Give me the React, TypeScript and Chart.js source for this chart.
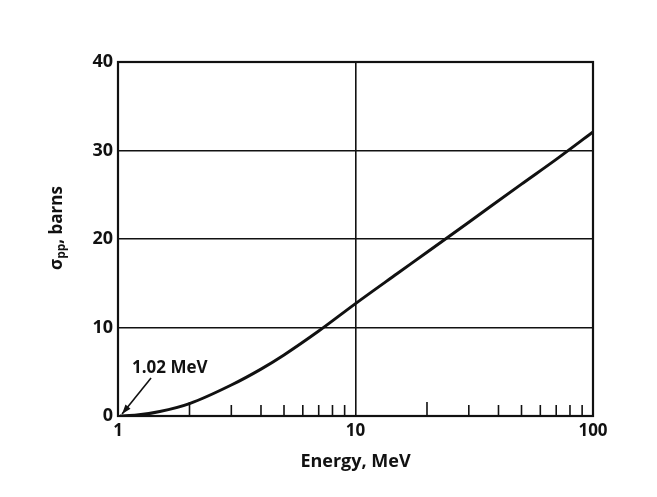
import React, { useEffect, useRef } from "react";
import { Chart, registerables } from "chart.js";

Chart.register(...registerables);

// Data
const energy = [1.02, 1.2, 1.5, 2, 3, 4, 5, 7, 10, 15, 20, 30, 50, 70, 100];
const sigma = [0, 0.1, 0.5, 1.4, 3.5, 5.3, 6.9, 9.6, 12.7, 16.1, 18.5, 21.9, 26.2, 29.0, 32.1];
const xLabels = [1, 10, 100];
const minorTicks = [2, 3, 4, 5, 6, 7, 8, 9, 20, 30, 40, 50, 60, 70, 80, 90];
const longMinor = [2, 20];
const gridX = [10];
const annotationText = "1.02 MeV";
const annotationAt = { x: 1.02, y: 0 };
const yTitleMain = "σ";
const yTitleSub = "pp";
const yTitleRest = ", barns";

const FONT = "'Open Sans', Lato, 'DejaVu Sans', sans-serif";
const INK = "#111";

const framePlugin = {
  id: "frameAndTicks",
  afterDraw(chart: any) {
    const { ctx, chartArea, scales } = chart;
    const xs = scales.x;
    const ys = scales.y;
    ctx.save();
    // frame
    ctx.strokeStyle = INK;
    ctx.lineWidth = 2.2;
    ctx.strokeRect(chartArea.left, chartArea.top, chartArea.right - chartArea.left, chartArea.bottom - chartArea.top);
    // minor ticks (inside, upward)
    ctx.lineWidth = 1.6;
    for (const v of minorTicks) {
      const px = xs.getPixelForValue(v);
      const len = longMinor.includes(v) ? 14 : 11;
      ctx.beginPath();
      ctx.moveTo(px, chartArea.bottom);
      ctx.lineTo(px, chartArea.bottom - len);
      ctx.stroke();
    }
    // annotation
    const tipX = xs.getPixelForValue(annotationAt.x);
    const tipY = ys.getPixelForValue(annotationAt.y);
    ctx.fillStyle = INK;
    ctx.font = `bold 17px ${FONT}`;
    ctx.textAlign = "left";
    ctx.textBaseline = "alphabetic";
    ctx.fillText(annotationText, tipX + 12, tipY - 43);
    const sx = tipX + 31, sy = tipY - 38;
    const ex = tipX + 2, ey = tipY - 2;
    ctx.lineWidth = 1.6;
    ctx.beginPath();
    ctx.moveTo(sx, sy);
    ctx.lineTo(ex, ey);
    ctx.stroke();
    const ang = Math.atan2(ey - sy, ex - sx);
    const ah = 10;
    ctx.beginPath();
    ctx.moveTo(ex, ey);
    ctx.lineTo(ex - ah * Math.cos(ang - 0.33), ey - ah * Math.sin(ang - 0.33));
    ctx.lineTo(ex - ah * Math.cos(ang + 0.33), ey - ah * Math.sin(ang + 0.33));
    ctx.closePath();
    ctx.fill();
    // y-axis title with subscript
    const cy = (chartArea.top + chartArea.bottom) / 2 - 11;
    ctx.translate(chartArea.left - 61, cy);
    ctx.rotate(-Math.PI / 2);
    const big = `bold 17px ${FONT}`;
    const small = `bold 12px ${FONT}`;
    ctx.font = big;
    const w1 = ctx.measureText(yTitleMain).width;
    const w3 = ctx.measureText(yTitleRest).width;
    ctx.font = small;
    const w2 = ctx.measureText(yTitleSub).width;
    let x0 = -(w1 + w2 + w3) / 2;
    ctx.textBaseline = "middle";
    ctx.font = big;
    ctx.fillText(yTitleMain, x0, 0);
    x0 += w1;
    ctx.font = small;
    ctx.fillText(yTitleSub, x0, 5);
    x0 += w2;
    ctx.font = big;
    ctx.fillText(yTitleRest, x0, 0);
    ctx.restore();
  },
};

export default function App() {
  const ref = useRef<HTMLCanvasElement>(null);
  useEffect(() => {
    if (!ref.current) return;
    const chart = new Chart(ref.current, {
      type: "line",
      data: {
        datasets: [
          {
            data: energy.map((e, i) => ({ x: e, y: sigma[i] })),
            borderColor: INK,
            borderWidth: 3,
            pointRadius: 0,
            cubicInterpolationMode: "monotone",
            fill: false,
          },
        ],
      },
      options: {
        animation: false,
        responsive: true,
        maintainAspectRatio: false,
        layout: { padding: { left: 0, top: 62, right: 64, bottom: 0 } },
        plugins: { legend: { display: false }, tooltip: { enabled: false } },
        scales: {
          x: {
            type: "logarithmic",
            min: 1,
            max: 100,
            afterFit: (s: any) => {
              s.height = 81;
            },
            grid: {
              drawTicks: false,
              color: (c: any) => (c.tick && gridX.includes(c.tick.value) ? INK : "rgba(0,0,0,0)"),
              lineWidth: 1.6,
            },
            border: { display: false },
            ticks: {
              autoSkip: false,
              maxRotation: 0,
              padding: 5,
              color: INK,
              font: { family: FONT, size: 17, weight: "bold" },
              callback: (v: any) => (xLabels.includes(Number(v)) ? String(v) : ""),
            },
            title: {
              display: true,
              text: "Energy, MeV",
              color: INK,
              font: { family: FONT, size: 18, weight: "bold" },
              padding: { top: 0, bottom: 24 },
            },
          },
          y: {
            min: 0,
            max: 40,
            afterFit: (s: any) => {
              s.width = 118;
            },
            grid: { drawTicks: false, color: INK, lineWidth: 1.6 },
            border: { display: false },
            ticks: {
              stepSize: 10,
              padding: 5,
              color: INK,
              font: { family: FONT, size: 18, weight: "bold" },
            },
            title: { display: false },
          },
        },
      },
      plugins: [framePlugin],
    } as any);
    return () => chart.destroy();
  }, []);
  return (
    <div style={{ position: "fixed", left: 0, top: 0, width: 657, height: 497, background: "#fff" }}>
      <canvas ref={ref} />
    </div>
  );
}
